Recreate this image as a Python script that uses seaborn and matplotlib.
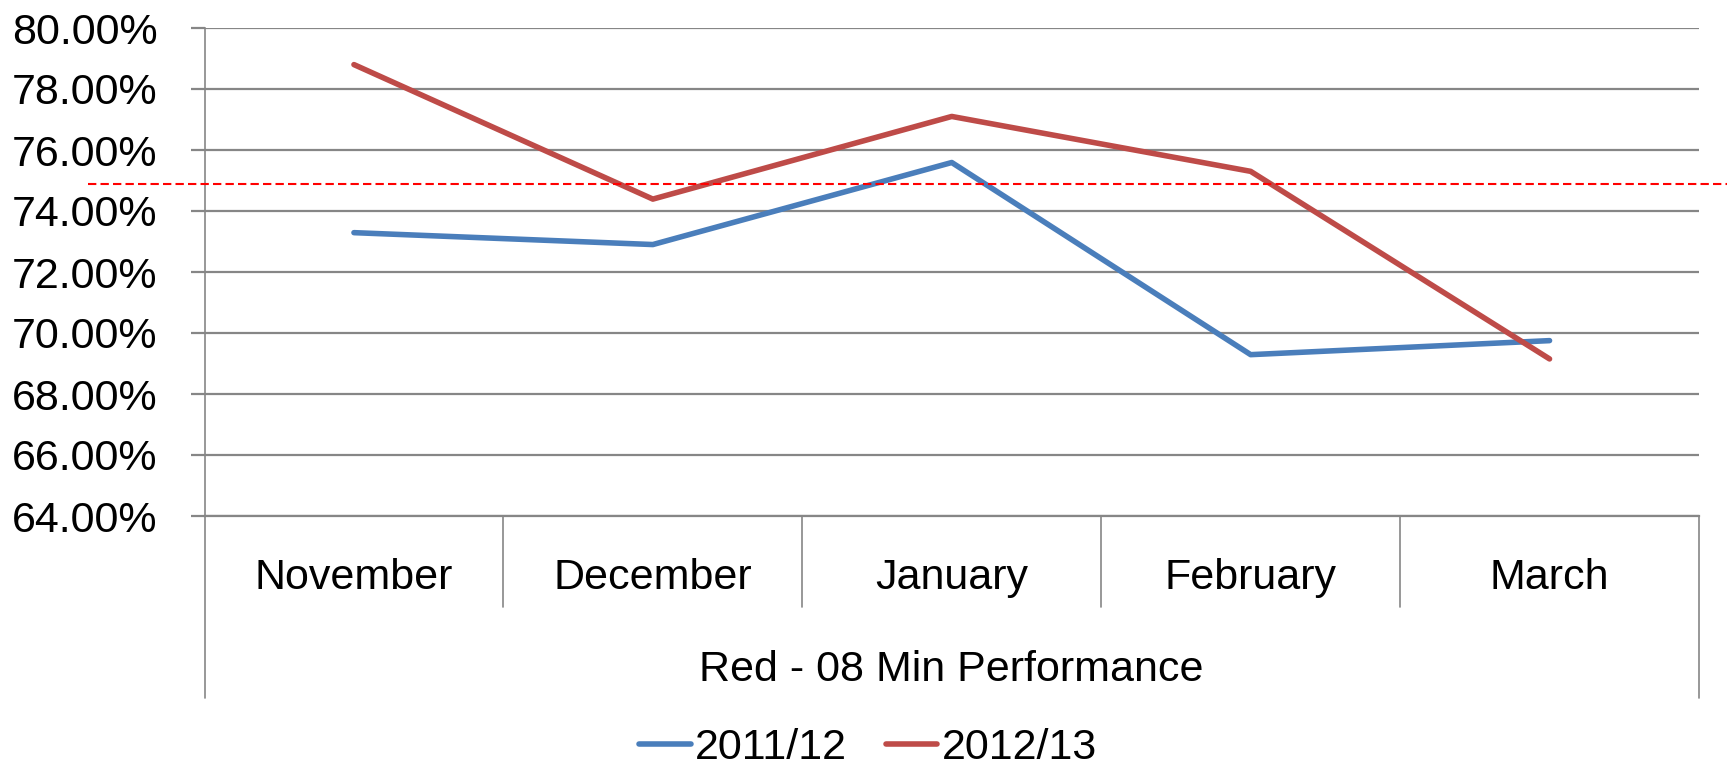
import numpy as np
import pandas as pd
import matplotlib
matplotlib.use("Agg")
import matplotlib.pyplot as plt
import matplotlib.transforms as mtransforms
import seaborn as sns

# data
months = ["November", "December", "January", "February", "March"]
perf_2011_12 = [73.29, 72.90, 75.59, 69.29, 69.75]
perf_2012_13 = [78.80, 74.39, 77.10, 75.30, 69.15]
target = 74.89
y_ticks = [64, 66, 68, 70, 72, 74, 76, 78, 80]
group_label = "Red - 08 Min Performance"

df = pd.DataFrame({
    "month": months * 2,
    "pos": list(range(len(months))) * 2,
    "value": perf_2011_12 + perf_2012_13,
    "season": ["2011/12"] * len(months) + ["2012/13"] * len(months),
})

sns.set_style("white")
plt.rcParams["font.family"] = ["Liberation Sans", "DejaVu Sans"]
plt.rcParams["text.color"] = "black"
plt.rcParams["xtick.labelcolor"] = "black"
plt.rcParams["ytick.labelcolor"] = "black"
FS = 31
GRID = "#868686"

fig = plt.figure(figsize=(17.27, 7.68), dpi=100)
W, H = 1727, 768
left, right, top, bottom = 204.5, 1699, 28, 516
ax = fig.add_axes([left / W, 1 - bottom / H, (right - left) / W, (bottom - top) / H])

sns.lineplot(data=df, x="pos", y="value", hue="season",
             palette=["#4A7EBB", "#BE4B48"], linewidth=4, ax=ax,
             solid_capstyle="round")

ax.set_xlim(-0.5, len(months) - 0.5)
ax.set_ylim(y_ticks[0], y_ticks[-1])
ax.set_yticks(y_ticks)
ax.set_yticklabels([f"{t:.2f}%" for t in y_ticks], fontsize=FS)
ax.yaxis.grid(True, color=GRID, linewidth=1.6)
ax.set_axisbelow(True)
ax.tick_params(axis="y", length=10, width=1.6, color=GRID, pad=24, left=True)

ax.set_xticks(range(len(months)))
ax.set_xticklabels(months, fontsize=FS)
ax.tick_params(axis="x", length=0, pad=30)
ax.set_xlabel("")
ax.set_ylabel("")

for side in ["top", "right"]:
    ax.spines[side].set_visible(False)
ax.spines["left"].set_color(GRID)
ax.spines["left"].set_linewidth(1.2)
ax.spines["bottom"].set_color(GRID)
ax.spines["bottom"].set_linewidth(1.6)

# target line, running past the plot area like the original
ax.axhline(target, xmin=(88 - left) / (right - left), xmax=(W - left) / (right - left),
           color="#FF0000", linewidth=1.5, dashes=(4, 2), clip_on=False, zorder=3)

# multi-level category table under the axis
trans = mtransforms.blended_transform_factory(ax.transData, ax.transAxes)
ah = bottom - top
inner_y = -(607 - bottom) / ah
outer_y = -(698 - bottom) / ah
for b in np.arange(len(months) - 1) + 0.5:
    ax.plot([b, b], [0, inner_y], color=GRID, linewidth=1.2, transform=trans, clip_on=False)
for b in [-0.5, len(months) - 0.5]:
    ax.plot([b, b], [0, outer_y], color=GRID, linewidth=1.2, transform=trans, clip_on=False)
ax.text(0.5, -(670 - bottom) / ah, group_label, transform=ax.transAxes,
        ha="center", va="center", fontsize=FS)

handles, labels = ax.get_legend_handles_labels()
ax.get_legend().remove()
fig.legend(handles, labels, loc="center", bbox_to_anchor=(0.5026, 1 - 748 / H),
           ncol=2, frameon=False, fontsize=FS, handlelength=1.2,
           handletextpad=0.1, columnspacing=0.9)

fig.savefig("out.png", dpi=100)
